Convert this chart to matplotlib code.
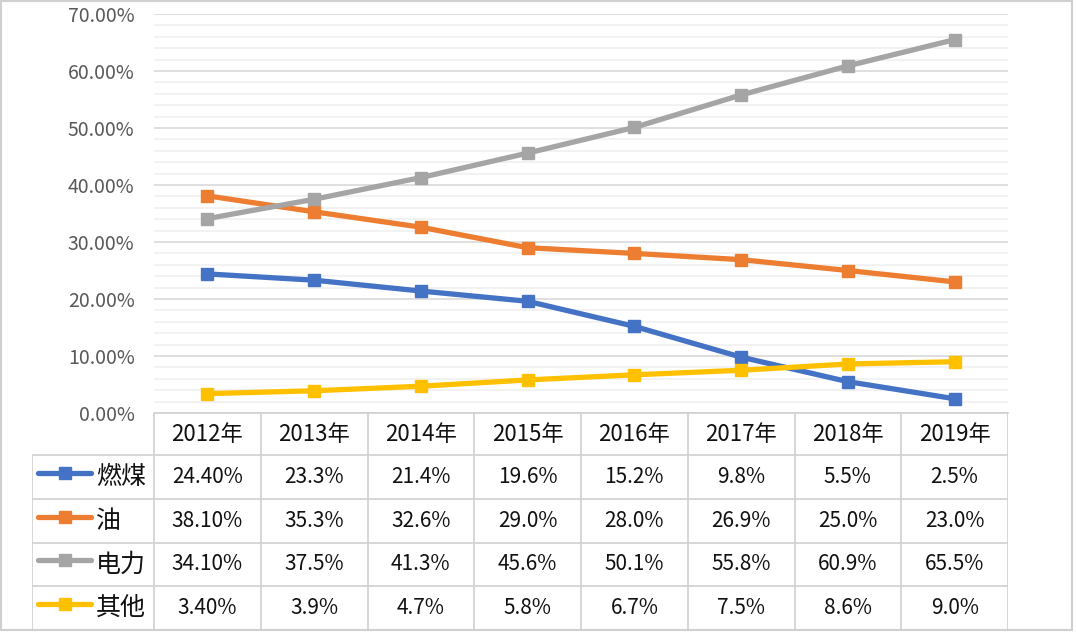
import numpy as np
import matplotlib
matplotlib.use("Agg")
import matplotlib.pyplot as plt
from matplotlib.patches import Rectangle

plt.rcParams['font.family'] = ['Noto Sans CJK SC', 'DejaVu Sans']

# Datos
anios = ["2012年", "2013年", "2014年", "2015年", "2016年", "2017年", "2018年", "2019年"]
series = ["燃煤", "油", "电力", "其他"]
carbon = [24.4, 23.3, 21.4, 19.6, 15.2, 9.8, 5.5, 2.5]
petroleo = [38.1, 35.3, 32.6, 29.0, 28.0, 26.9, 25.0, 23.0]
electricidad = [34.1, 37.5, 41.3, 45.6, 50.1, 55.8, 60.9, 65.5]
otros = [3.4, 3.9, 4.7, 5.8, 6.7, 7.5, 8.6, 9.0]
etiquetas_tabla = [
    ["24.40%", "23.3%", "21.4%", "19.6%", "15.2%", "9.8%", "5.5%", "2.5%"],
    ["38.10%", "35.3%", "32.6%", "29.0%", "28.0%", "26.9%", "25.0%", "23.0%"],
    ["34.10%", "37.5%", "41.3%", "45.6%", "50.1%", "55.8%", "60.9%", "65.5%"],
    ["3.40%", "3.9%", "4.7%", "5.8%", "6.7%", "7.5%", "8.6%", "9.0%"],
]
colores = ["#4472C4", "#ED7D31", "#A5A5A5", "#FFC000"]
valores = [carbon, petroleo, electricidad, otros]

W, H = 1077, 635
def fx(px): return px / W
def fy(py): return 1 - py / H

fig = plt.figure(figsize=(W / 100, H / 100), dpi=100)

# Marco exterior
fig.patches.append(Rectangle((fx(1), fy(630)), fx(1072) - fx(1), fy(1) - fy(630),
                             transform=fig.transFigure, fill=False,
                             edgecolor="#d0d0d0", linewidth=1.5))

# Gráfica principal
izq, der, arriba, abajo = 154, 1008, 14, 413
ax = fig.add_axes([fx(izq), fy(abajo), fx(der) - fx(izq), (abajo - arriba) / H])
x = np.arange(len(anios))
for vals, c in zip(valores, colores):
    ax.plot(x, np.array(vals) / 100, color=c, linewidth=3.8, marker="s",
            markersize=9, solid_capstyle="round", zorder=3)

ax.set_xlim(-0.5, len(anios) - 0.5)
ax.set_ylim(0, 0.7)
ax.set_yticks(np.arange(0, 0.71, 0.1))
ax.set_yticks(np.arange(0, 0.71, 0.02), minor=True)
ax.set_yticklabels(["%.2f%%" % (v * 100) for v in np.arange(0, 0.71, 0.1)],
                   fontsize=14, color="#595959")
ax.grid(axis="y", which="major", color="#d9d9d9", linewidth=1.2, zorder=0)
ax.grid(axis="y", which="minor", color="#f0f0f0", linewidth=1.2, zorder=0)
ax.tick_params(axis="y", which="both", length=0, pad=14)
ax.set_xticks([])
for s in ["top", "right", "left"]:
    ax.spines[s].set_visible(False)
ax.spines["bottom"].set_color("#d0d0d0")
ax.spines["bottom"].set_linewidth(1.2)

# Tabla de datos
tab_izq, tab_abajo = 32, 630
tab = fig.add_axes([fx(tab_izq), fy(tab_abajo), fx(der) - fx(tab_izq), (tab_abajo - abajo) / H])
tab.set_xlim(tab_izq, der)
tab.set_ylim(tab_abajo, abajo)
tab.axis("off")

ancho = (der - izq) / len(anios)
fila_enc = 455
alto = (tab_abajo - fila_enc) / len(series)
gris = "#d0d0d0"

for i in range(len(anios) + 1):
    xi = izq + i * ancho
    tab.plot([xi, xi], [abajo, tab_abajo], color=gris, linewidth=1.2)
tab.plot([tab_izq, tab_izq], [fila_enc, tab_abajo], color=gris, linewidth=1.2)
for j in range(len(series) + 1):
    yj = fila_enc + j * alto
    tab.plot([tab_izq, der], [yj, yj], color=gris, linewidth=1.2)

for i, a in enumerate(anios):
    tab.text(izq + (i + 0.5) * ancho, (abajo + fila_enc) / 2, a,
             ha="center", va="center", fontsize=16, color="#111111")

for j, (nombre, c) in enumerate(zip(series, colores)):
    yc = fila_enc + (j + 0.5) * alto
    tab.plot([38, 91], [yc - 4, yc - 4], color=c, linewidth=3.8, solid_capstyle="round")
    tab.plot([64.5], [yc - 4], color=c, marker="s", markersize=9)
    tab.text(96, yc, nombre, ha="left", va="center", fontsize=18, color="#111111")
    for i, lab in enumerate(etiquetas_tabla[j]):
        tab.text(izq + (i + 0.5) * ancho, yc, lab,
                 ha="center", va="center", fontsize=15, color="#111111")

fig.savefig("out.png", dpi=100)
